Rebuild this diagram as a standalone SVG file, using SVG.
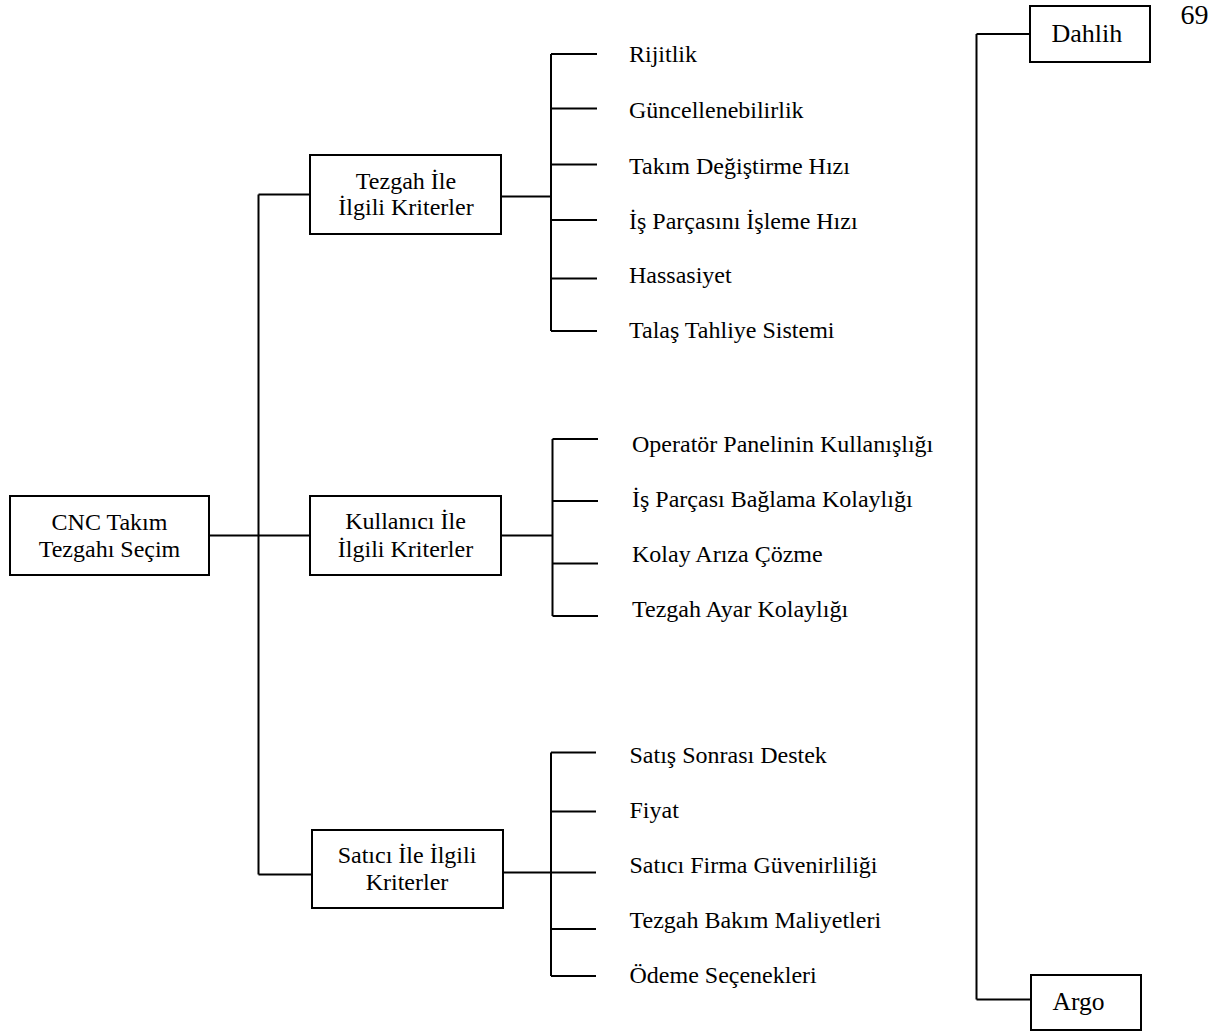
<svg xmlns="http://www.w3.org/2000/svg" width="1221" height="1035" viewBox="0 0 1221 1035">
<style>
.box{fill:#fff;stroke:#000;stroke-width:2}
.ln{fill:none;stroke:#000;stroke-width:2}
.t{font-family:'Liberation Serif','Times New Roman',Times,serif;font-size:24px;fill:#000}
.c{text-anchor:middle}
</style>
<rect width="1221" height="1035" fill="#fff"/>
<g id="connectors" class="ln">
<path d="M209 535.5H310M258.5 194.5V874.5M258.5 194.5H310M258.5 874.5H312"/>
<path d="M501 196.5H551M551 54V331M551 54H597M551 108.5H597M551 164.5H597M551 220H597M551 278.5H597M551 331H597"/>
<path d="M501 535.5H552.5M552.5 439V616M552.5 439H598M552.5 501H598M552.5 563.5H598M552.5 616H598"/>
<path d="M503 872.5H551M551 752.5V976M551 752.5H596M551 811.5H596M551 872.5H596M551 929H596M551 976H596"/>
<path d="M976.5 34V999.5M976.5 34H1030M976.5 999.5H1031"/>
</g>
<g id="root" class="t"><rect class="box" x="10" y="496" width="199" height="79"/><text class="c" x="109.5" y="529.5">CNC Takım</text><text class="c" x="109.5" y="556.5">Tezgahı Seçim</text></g>
<g id="tezgah" class="t"><rect class="box" x="310" y="155" width="191" height="79"/><text class="c" x="406" y="188.5">Tezgah İle</text><text class="c" x="406" y="215">İlgili Kriterler</text></g>
<g id="kullanici" class="t"><rect class="box" x="310" y="496" width="191" height="79"/><text class="c" x="405.5" y="529">Kullanıcı İle</text><text class="c" x="405.5" y="556.5">İlgili Kriterler</text></g>
<g id="satici" class="t"><rect class="box" x="312" y="830" width="191" height="78"/><text class="c" x="407" y="862.5">Satıcı İle İlgili</text><text class="c" x="407" y="890">Kriterler</text></g>
<g id="leaves" class="t">
<g id="leaf-rijitlik"><text x="629" y="62">Rijitlik</text></g>
<g id="leaf-guncel"><text x="629" y="118">Güncellenebilirlik</text></g>
<g id="leaf-takim"><text x="629" y="174">Takım Değiştirme Hızı</text></g>
<g id="leaf-isparca"><text x="629" y="229">İş Parçasını İşleme Hızı</text></g>
<g id="leaf-hassas"><text x="629" y="283">Hassasiyet</text></g>
<g id="leaf-talas"><text x="629" y="338">Talaş Tahliye Sistemi</text></g>
<g id="leaf-operator"><text x="632" y="451.5">Operatör Panelinin Kullanışlığı</text></g>
<g id="leaf-baglama"><text x="632" y="507">İş Parçası Bağlama Kolaylığı</text></g>
<g id="leaf-ariza"><text x="632" y="561.5">Kolay Arıza Çözme</text></g>
<g id="leaf-ayar"><text x="632" y="616.5">Tezgah Ayar Kolaylığı</text></g>
<g id="leaf-satis"><text x="629.5" y="762.5">Satış Sonrası Destek</text></g>
<g id="leaf-fiyat"><text x="629.5" y="817.5">Fiyat</text></g>
<g id="leaf-firma"><text x="629.5" y="873">Satıcı Firma Güvenirliliği</text></g>
<g id="leaf-bakim"><text x="629.5" y="928">Tezgah Bakım Maliyetleri</text></g>
<g id="leaf-odeme"><text x="629.5" y="983">Ödeme Seçenekleri</text></g>
</g>
<g id="dahlih" class="t"><rect class="box" x="1030" y="6" width="120" height="56"/><text x="1051.5" y="42" style="font-size:26px">Dahlih</text></g>
<g id="argo" class="t"><rect class="box" x="1031" y="975" width="110" height="55"/><text x="1052.5" y="1009.5" style="font-size:25.5px">Argo</text></g>
<g id="page" class="t"><text x="1180.5" y="24" style="font-size:28px">69</text></g>
</svg>
